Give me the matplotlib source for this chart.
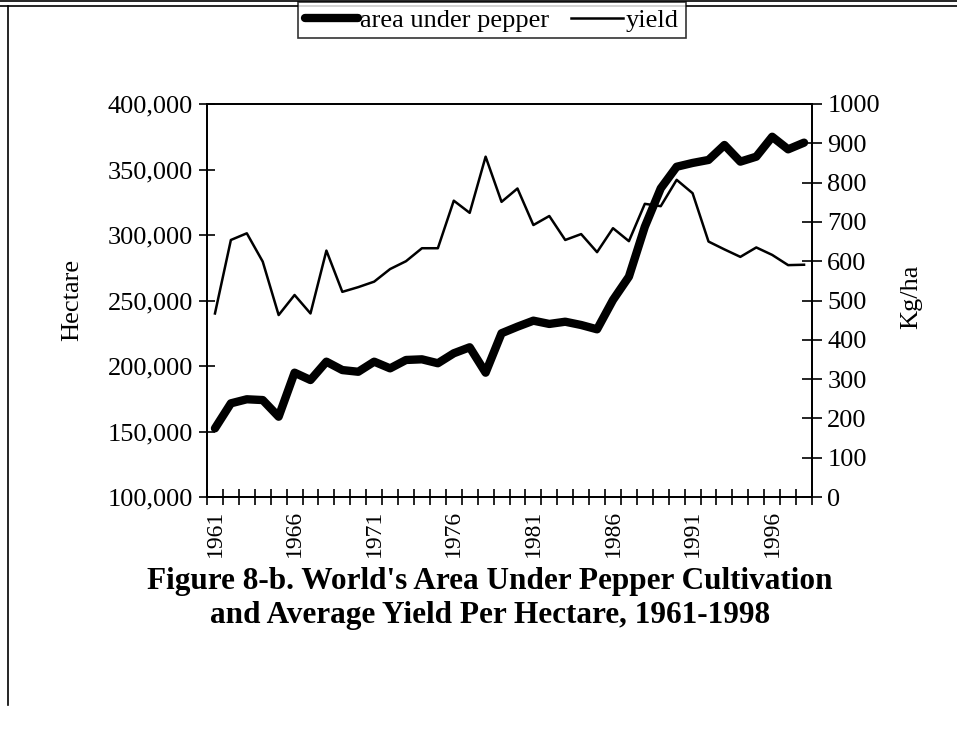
import numpy as np
import matplotlib
matplotlib.use('Agg')
import matplotlib.pyplot as plt
from matplotlib.lines import Line2D

plt.rcParams['font.family'] = ['Liberation Serif', 'DejaVu Serif']

# datos
years = list(range(1961, 1999))
area = [152400, 171500, 174600, 174000, 161300, 194900, 189300, 203300, 196900, 195600,
        203300, 198200, 204600, 205100, 202100, 209700, 214300, 194900, 225000, 230000,
        234600, 232100, 233800, 231300, 228000, 250400, 268200, 306300, 335600, 352100,
        355000, 357300, 368700, 356000, 359800, 375000, 365400, 370500]
yield_kg = [467, 654, 671, 599, 463, 514, 467, 627, 522, 534,
            548, 580, 600, 633, 633, 754, 723, 866, 751, 785,
            692, 715, 654, 669, 623, 684, 651, 746, 740, 807,
            773, 650, 630, 611, 635, 616, 590, 591]
left_ticks = [100000, 150000, 200000, 250000, 300000, 350000, 400000]
right_ticks = [0, 100, 200, 300, 400, 500, 600, 700, 800, 900, 1000]

x = np.arange(len(years))
fs = 19

fig = plt.figure(figsize=(9.57, 7.32), dpi=100)
ax = fig.add_axes([207/957, 1 - 497/732, (812 - 207)/957, (497 - 104)/732])
ax2 = ax.twinx()

l1, = ax.plot(x, area, color='black', lw=6, solid_capstyle='round', solid_joinstyle='round')
l2, = ax2.plot(x, yield_kg, color='black', lw=1.8)

ax.set_xlim(-0.5, len(years) - 0.5)
ax.set_ylim(100000, 400000)
ax2.set_ylim(0, 1000)

ax.set_yticks(left_ticks)
ax.set_yticklabels([f'{v:,}' for v in left_ticks])
ax2.set_yticks(right_ticks)
ax2.set_yticklabels([str(v) for v in right_ticks])

# marcas entre categorias, etiquetas cada 5 anios
ax.set_xticks(np.arange(len(years) + 1) - 0.5)
ax.set_xticklabels([])
lab_idx = [i for i in range(len(years)) if (years[i] - 1961) % 5 == 0]
ax.set_xticks(lab_idx, minor=True)
ax.set_xticklabels([str(years[i]) for i in lab_idx], minor=True, rotation=90)
ax.tick_params(axis='x', which='minor', length=0, pad=9, labelsize=17)
ax.tick_params(axis='x', which='major', direction='inout', length=11, width=1.2)
ax.tick_params(axis='y', direction='inout', length=12, width=1.2, labelsize=fs, pad=4)
ax2.tick_params(axis='y', direction='inout', length=14, width=1.2, labelsize=fs, pad=4)

for a in (ax, ax2):
    for s in a.spines.values():
        s.set_linewidth(1.3)

fig.text(72/957, 1 - 300/732, 'Hectare', rotation=90, ha='center', va='center', fontsize=fs)
fig.text(911/957, 1 - 297/732, 'Kg/ha', rotation=90, ha='center', va='center', fontsize=fs)

fig.legend([l1, l2], ['area under pepper', 'yield'], loc='center',
           bbox_to_anchor=(492/957, 1 - 20/732), ncol=2, frameon=True, fancybox=False,
           edgecolor='black', fontsize=fs, handlelength=2.0, handletextpad=0.1,
           columnspacing=0.8, borderpad=0.25, borderaxespad=0)
fig.legends[0].get_frame().set_linewidth(1.2)

fig.text(490/957, 1 - 582/732, "Figure 8-b. World's Area Under Pepper Cultivation",
         ha='center', va='center', fontsize=22.5, fontweight='bold')
fig.text(490/957, 1 - 615/732, 'and Average Yield Per Hectare, 1961-1998',
         ha='center', va='center', fontsize=22.5, fontweight='bold')

# bordes de la pagina
fig.add_artist(Line2D([0, 1], [1 - 1/732, 1 - 1/732], color='black', lw=1.2))
fig.add_artist(Line2D([0, 1], [1 - 6/732, 1 - 6/732], color='black', lw=1.2))
fig.add_artist(Line2D([8/957, 8/957], [1 - 6/732, 1 - 705/732], color='black', lw=1.2))

fig.savefig('out.png', dpi=100)
